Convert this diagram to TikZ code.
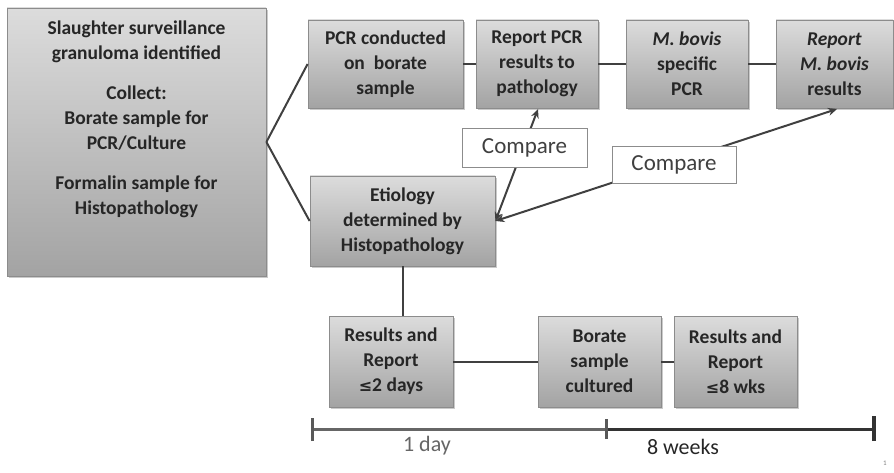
\documentclass[tikz,border=0pt]{standalone}
\usepackage{fontspec}
\setmainfont{Carlito}
\newfontfamily\symfont{DejaVu Sans}
\usetikzlibrary{arrows.meta,shadows}
\definecolor{boxtop}{HTML}{DCDCDC}
\definecolor{boxbot}{HTML}{A3A3A3}
\definecolor{boxline}{HTML}{8C8C8C}
\definecolor{linec}{HTML}{404040}
\definecolor{txt}{HTML}{262626}
\tikzset{
  gbox/.style={draw=boxline, line width=0.8pt, top color=boxtop, bottom color=boxbot,
    drop shadow={shadow xshift=2pt, shadow yshift=-2pt, opacity=0.35, fill=black!60},
    align=center, font=\fontsize{19.5}{25}\selectfont\bfseries, text=txt, inner sep=1pt},
  cmpbox/.style={draw=boxline, line width=0.8pt, fill=white, font=\fontsize{23}{26}\selectfont,
    text=linec, inner sep=0pt},
  conn/.style={draw=linec, line width=2pt},
  arr/.style={conn, {Stealth[length=9pt,width=8pt]}-{Stealth[length=9pt,width=8pt]}},
}
\begin{document}
\begin{tikzpicture}[x=1pt,y=-1pt]
\useasboundingbox (0,0) rectangle (894,473);
% boxes
\node[gbox, minimum width=259pt, minimum height=268pt] (L) at (136.5,142) {};
\node[align=center, font=\fontsize{19.5}{25}\selectfont\bfseries, text=txt, anchor=north] (Lt) at (136.5,17)
 {Slaughter surveillance\\granuloma identified\\[15pt]Collect:\\Borate sample for\\PCR/Culture\\[15pt]Formalin sample for\\Histopathology};
\node[gbox, minimum width=155pt, minimum height=88pt] (pcr) at (385.5,64) {PCR conducted\\on\ \ borate\\sample};
\node[gbox, minimum width=122pt, minimum height=88pt] (rep) at (537,64) {Report PCR\\results to\\pathology};
\node[gbox, minimum width=122pt, minimum height=88pt] (mb) at (687,64) {\textit{M. bovis}\\specific\\PCR};
\node[gbox, minimum width=117pt, minimum height=88pt] (rmb) at (834.5,64) {\textit{Report}\\\textit{M. bovis}\\results};
\node[gbox, minimum width=185pt, minimum height=90pt] (eti) at (402.5,221) {Etiology\\determined by\\Histopathology};
\node[gbox, minimum width=124pt, minimum height=91pt] (res1) at (391,361.5) {Results and\\Report\\{\symfont\fontsize{16}{25}\selectfont ≤}2 days};
\node[gbox, minimum width=123pt, minimum height=91pt] (bor) at (599.5,361.5) {Borate\\sample\\cultured};
\node[gbox, minimum width=123pt, minimum height=91pt] (res2) at (735.5,361.5) {Results and\\Report\\{\symfont\fontsize{16}{25}\selectfont ≤}8 wks};
% connectors
\draw[conn] (L.east) -- (pcr.west);
\draw[conn] (L.east) -- (eti.west);
\draw[conn] (pcr.east) -- (rep.west);
\draw[conn] (rep.east) -- (mb.west);
\draw[conn] (mb.east) -- (rmb.west);
\draw[conn] (eti.south -| 402.5,0) -- (402.5,316);
\draw[conn] (res1.east) -- (bor.west);
\draw[conn] (bor.east) -- (res2.west);
\draw[arr] (eti.east) -- (538,109);
\draw[arr] (eti.east) -- (837,109);
\node[cmpbox, minimum width=125pt, minimum height=39pt] (cmp1) at (524.5,147.5) {Compare};
\node[cmpbox, minimum width=124pt, minimum height=37pt] (cmp2) at (674,164.5) {Compare};
% timeline
\coordinate (t0) at (312.5,429);
\coordinate (t1) at (606,429);
\coordinate (t2) at (874,429);
\draw[line width=3pt, draw=black!60] (t0) -- (t1);
\draw[line width=3pt, draw=black!80] (t1) -- (t2);
\draw[line width=3.5pt, draw=black!65] ([yshift=-12pt]t0) -- ([yshift=11pt]t0);
\draw[line width=3pt, draw=black!65] ([yshift=-10pt]t1) -- ([yshift=10pt]t1);
\draw[line width=3.5pt, draw=black!80] ([yshift=-12pt]t2) -- ([yshift=13pt]t2);
\node[font=\fontsize{22}{24}\selectfont, text=black!60] (d1) at (427,446) {1 day};
\node[font=\fontsize{22}{24}\selectfont, text=black!85] (w8) at (683,447) {8 weeks};
\node[font=\fontsize{7}{8}\selectfont, text=black!50] (pg) at (885,463) {1};
\end{tikzpicture}
\end{document}
